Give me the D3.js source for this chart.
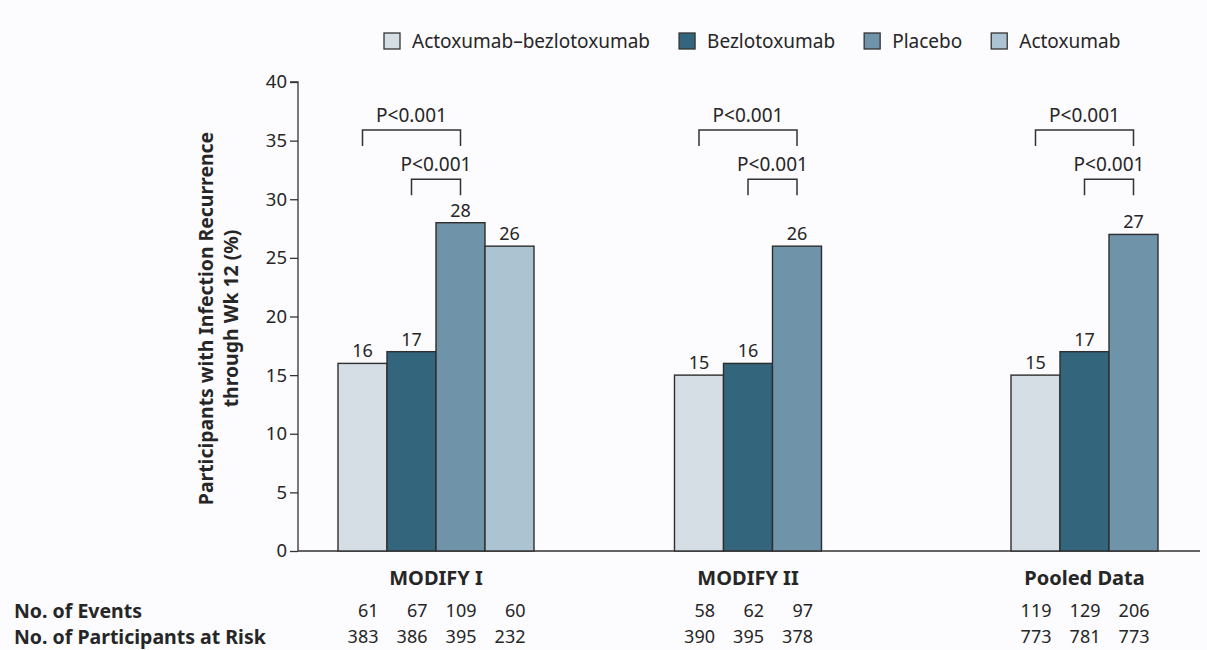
<!DOCTYPE html>
<html><head><meta charset="utf-8">
<script src="https://cdn.jsdelivr.net/npm/d3@7"></script>
<style>
html,body{margin:0;padding:0;background:#fcfbfd;}
svg{display:block;font-family:"Noto Sans",Lato,sans-serif;}
</style></head>
<body><svg id="c" width="1207" height="650"></svg>
<script>
const groups = ["MODIFY I", "MODIFY II", "Pooled Data"];
const series = ["Actoxumab–bezlotoxumab", "Bezlotoxumab", "Placebo", "Actoxumab"];
const colors = ["#d5dee5", "#33667c", "#6f93a9", "#acc3d2"];
const values = [[16, 17, 28, 26], [15, 16, 26, null], [15, 17, 27, null]];
const events = [[61, 67, 109, 60], [58, 62, 97, null], [119, 129, 206, null]];
const atRisk = [[383, 386, 395, 232], [390, 395, 378, null], [773, 781, 773, null]];
const yTicks = [0, 5, 10, 15, 20, 25, 30, 35, 40];
const pLabel = "P<0.001";
// comparisons: [fromSeries, toSeries, level]
const brackets = [[0, 2, 35.9], [1, 2, 31.7]];
const rowLabels = ["No. of Events", "No. of Participants at Risk"];

const svg = d3.select("#c");
const ink = "#262626";
const y = d3.scaleLinear().domain([0, 40]).range([551, 82]);
const x0 = d3.scaleBand().domain(groups).range([338, 338 + 3 * 336.5]).paddingInner(0).paddingOuter(0);
const x1 = d3.scaleBand().domain(d3.range(series.length)).range([0, 196]).padding(0);
const axisX = 298;

// y axis
const yAxis = d3.axisLeft(y).tickValues(yTicks).tickSize(8).tickPadding(3);
const ga = svg.append("g").attr("transform", `translate(${axisX},0)`).call(yAxis);
ga.select(".domain").attr("stroke", "#333").attr("stroke-width", 1.3).attr("d", `M-8,${y(40)}H0V${y(0)}`);
ga.selectAll(".tick line").attr("stroke", "#333").attr("stroke-width", 1.3);
ga.selectAll(".tick text").attr("fill", ink).style("font-size", "18.5px").style("font-family", "Noto Sans");

// x baseline
svg.append("line").attr("x1", axisX).attr("x2", 1200).attr("y1", y(0)).attr("y2", y(0))
  .attr("stroke", "#333").attr("stroke-width", 1.3);

// y title
const yt = svg.append("text").attr("transform", `translate(213,${(y(0)+y(40))/2 + 2}) rotate(-90)`)
  .attr("text-anchor", "middle").attr("fill", ink).style("font-size", "19.4px").style("font-weight", "700");
yt.append("tspan").attr("x", 0).attr("dy", 0).text("Participants with Infection Recurrence");
yt.append("tspan").attr("x", 0).attr("dy", 25).text("through Wk 12 (%)");

// bars
groups.forEach((g, gi) => {
  const gx = x0(g);
  const gEl = svg.append("g").attr("transform", `translate(${gx},0)`);
  const vals = values[gi];
  const n = vals.filter(v => v != null).length;
  vals.forEach((v, si) => {
    if (v == null) return;
    gEl.append("rect").attr("x", x1(si)).attr("y", y(v)).attr("width", x1.bandwidth())
      .attr("height", y(0) - y(v)).attr("fill", colors[si]).attr("stroke", "#2e2e2e").attr("stroke-width", 1.4);
    gEl.append("text").attr("x", x1(si) + x1.bandwidth() / 2).attr("y", y(v) - 6)
      .attr("text-anchor", "middle").attr("fill", ink).style("font-size", "18px").text(v);
    // table
    [events, atRisk].forEach((arr, ri) => {
      gEl.append("text").attr("x", x1(si) + x1.bandwidth() / 2 + 16).attr("y", 617 + ri * 26)
        .attr("text-anchor", "end").attr("fill", ink).style("font-size", "18px").text(arr[gi][si]);
    });
  });
  const cx = x1(0) + (n * x1.bandwidth()) / 2;
  gEl.append("text").attr("x", cx).attr("y", 585).attr("text-anchor", "middle").attr("fill", ink)
    .style("font-size", "20px").style("font-weight", "700").text(g);
  // brackets
  brackets.forEach(([a, b, lvl]) => {
    const xa = x1(a) + x1.bandwidth() / 2, xb = x1(b) + x1.bandwidth() / 2, yy = y(lvl);
    gEl.append("path").attr("d", `M${xa},${yy + 16}V${yy}H${xb}V${yy + 16}`)
      .attr("fill", "none").attr("stroke", "#333").attr("stroke-width", 1.5);
    gEl.append("text").attr("x", (xa + xb) / 2).attr("y", yy - 8).attr("text-anchor", "middle")
      .attr("fill", ink).style("font-size", "19px").text(pLabel);
  });
});

// row labels
rowLabels.forEach((t, i) => {
  svg.append("text").attr("x", 14).attr("y", 618 + i * 26).attr("fill", ink)
    .style("font-size", "19.5px").style("font-weight", "700").text(t);
});

// legend
let lx = 384;
series.forEach((s, i) => {
  const g = svg.append("g");
  g.append("rect").attr("x", lx).attr("y", 33).attr("width", 16).attr("height", 16)
    .attr("fill", colors[i]).attr("stroke", "#333").attr("stroke-width", 1.3);
  const t = g.append("text").attr("x", lx + 28).attr("y", 48).attr("fill", ink)
    .style("font-size", "19px").text(s);
  lx += 28 + t.node().getComputedTextLength() + 29;
});
</script></body></html>
